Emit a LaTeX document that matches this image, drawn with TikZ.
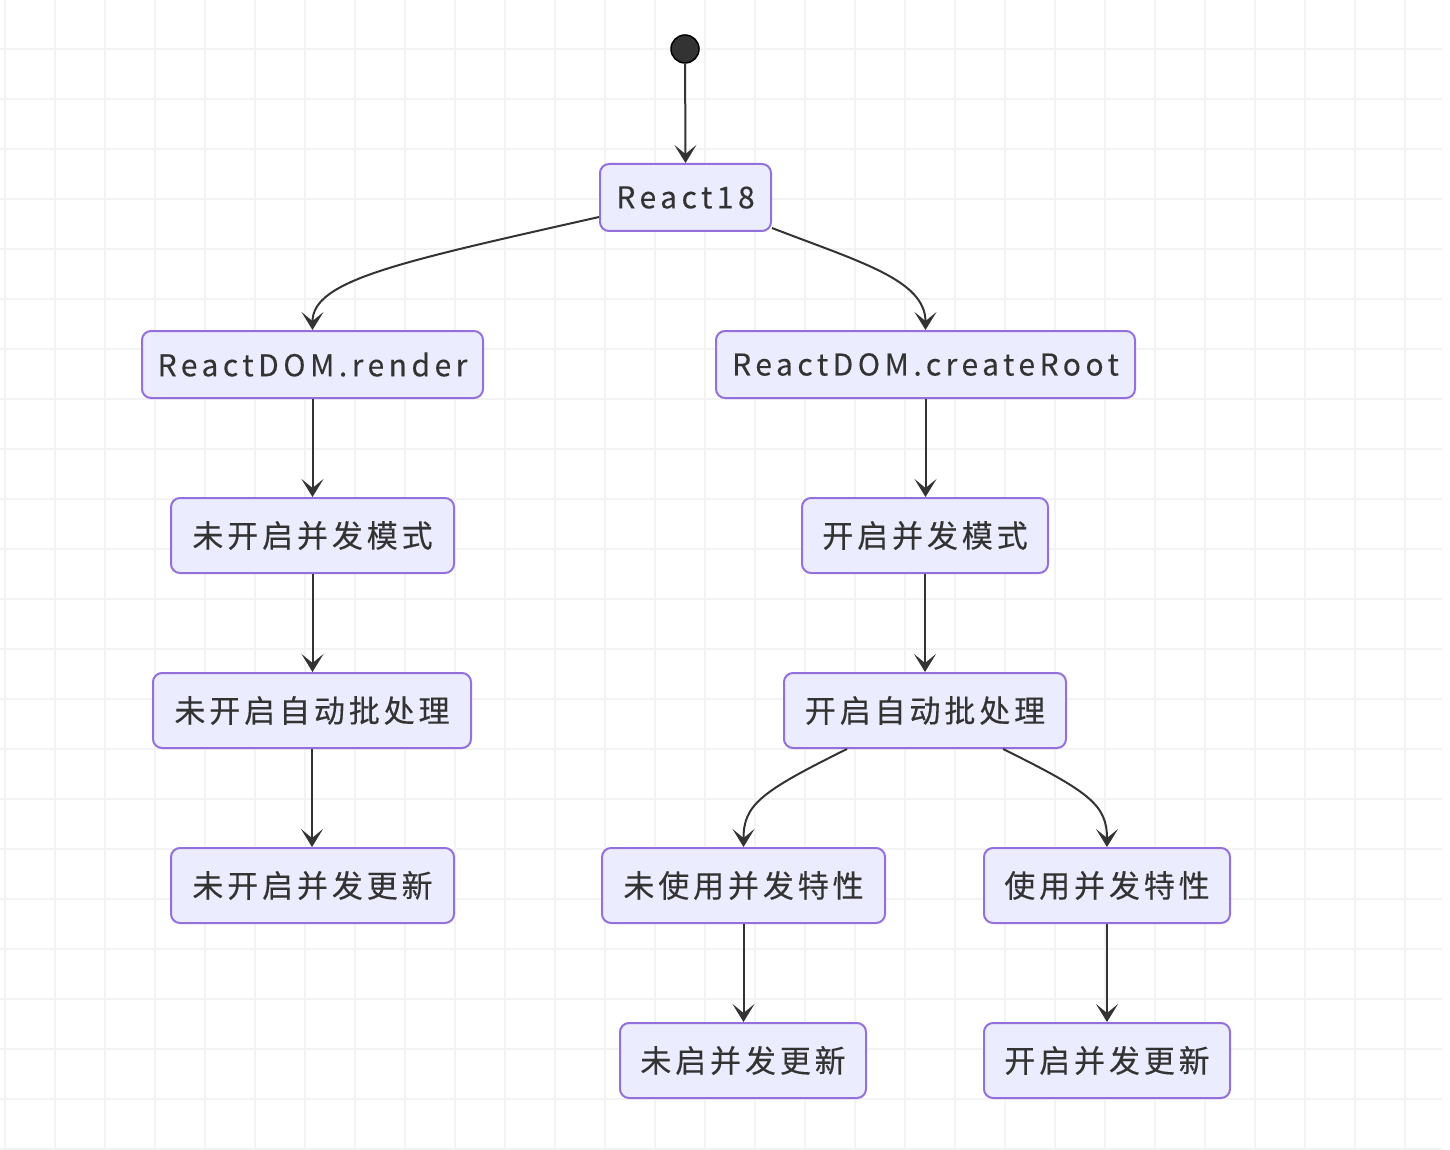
\documentclass[tikz,border=0pt]{standalone}
\usepackage{fontspec}
\setmainfont{Noto Sans CJK SC}[LetterSpace=12.5, FakeBold=0.25]
\newfontfamily\latinf{Noto Sans CJK SC}[LetterSpace=15, FakeBold=0.25]
\usetikzlibrary{arrows.meta}
\definecolor{nodefill}{HTML}{ECECFF}
\definecolor{nodeline}{HTML}{9370DB}
\definecolor{ink}{HTML}{333333}
\definecolor{gridc}{HTML}{F3F3F3}
\tikzset{
  box/.style={draw=nodeline, fill=nodefill, line width=2pt, rounded corners=9pt,
    inner sep=0pt, text=ink, font=\fontsize{31pt}{36pt}\selectfont},
  lbox/.style={box, font=\latinf\fontsize{30pt}{36pt}\selectfont},
  conn/.style={draw=ink, line width=2pt, -{Stealth[length=18pt,width=22pt,inset=9pt]}},
}
\begin{document}
\begin{tikzpicture}[x=1pt,y=-1pt]
\useasboundingbox (0,0) rectangle (1450,1150);
\fill[white] (0,0) rectangle (1450,1150);
% grid
\foreach \gx in {5,55,...,1405} \draw[gridc, line width=1.3pt] (\gx,0) -- (\gx,1150);
\foreach \gy in {49,99,...,1149} \draw[gridc, line width=1.3pt] (0,\gy) -- (1442,\gy);
% start
\node[circle, fill=ink, draw=black, line width=1.5pt, minimum size=28pt, inner sep=0pt] (start) at (685,49) {};
% nodes
\node[lbox, minimum width=171pt, minimum height=67pt] (react) at (685.5,197.5) {React18};
\node[lbox, minimum width=341pt, minimum height=67pt] (render) at (312.5,364.5) {ReactDOM.render};
\node[lbox, minimum width=419pt, minimum height=67pt] (root) at (925.5,364.5) {ReactDOM.createRoot};
\node[box, minimum width=283pt, minimum height=75pt] (l1) at (312.5,535.5) {未开启并发模式};
\node[box, minimum width=246pt, minimum height=75pt] (r1) at (925,535.5) {开启并发模式};
\node[box, minimum width=318pt, minimum height=75pt] (l2) at (312,710.5) {未开启自动批处理};
\node[box, minimum width=282pt, minimum height=75pt] (r2) at (925,710.5) {开启自动批处理};
\node[box, minimum width=283pt, minimum height=75pt] (l3) at (312.5,885.5) {未开启并发更新};
\node[box, minimum width=283pt, minimum height=75pt] (ra) at (743.5,885.5) {未使用并发特性};
\node[box, minimum width=246pt, minimum height=75pt] (rb) at (1107,885.5) {使用并发特性};
\node[box, minimum width=246pt, minimum height=75pt] (ra2) at (743,1060.5) {未启并发更新};
\node[box, minimum width=246pt, minimum height=75pt] (rb2) at (1107,1060.5) {开启并发更新};
% connectors
\draw[conn] (start) -- (react.north);
\draw[conn] ([yshift=-19.5pt]react.west) .. controls (400,262) and (312.5,280) .. (render.north);
\draw[conn] ([yshift=4pt]react.south east) .. controls (860,262) and (925.5,280) .. (root.north);
\draw[conn] (render.south) -- (render.south |- l1.north);
\draw[conn] (root.south) -- (root.south |- r1.north);
\draw[conn] (l1.south) -- (l1.south |- l2.north);
\draw[conn] (r1.south) -- (r1.south |- r2.north);
\draw[conn] (l2.south) -- (l2.south |- l3.north);
\draw[conn] ([xshift=-78pt]r2.south) .. controls (760,792) and (743.5,805) .. (ra.north);
\draw[conn] ([xshift=78pt]r2.south) .. controls (1090,792) and (1107,805) .. (rb.north);
\draw[conn] (ra.south) -- (ra.south |- ra2.north);
\draw[conn] (rb.south) -- (rb2.north);
\end{tikzpicture}
\end{document}
